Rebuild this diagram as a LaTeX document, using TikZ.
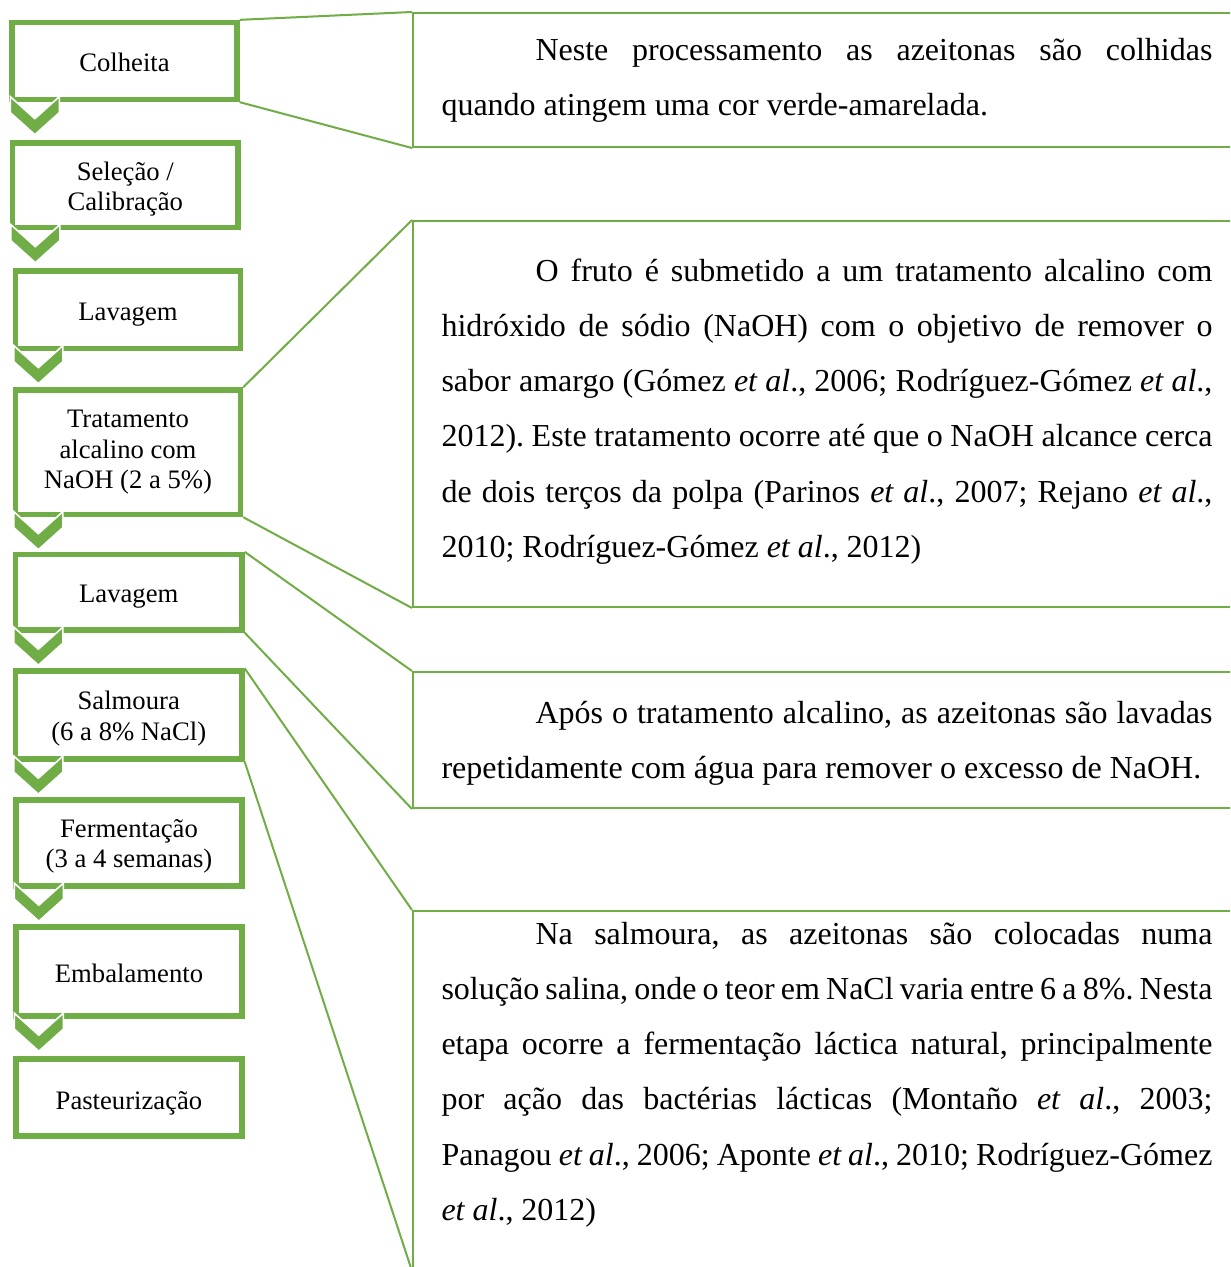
\documentclass[tikz,border=0pt]{standalone}
\usepackage{fontspec}
\setmainfont{Liberation Serif}
\definecolor{leaf}{RGB}{112,173,71}
\frenchspacing
\hyphenpenalty=10000
\tolerance=10000
\begin{document}
\begin{tikzpicture}[x=0.375pt,y=-0.375pt,
  stepbox/.style={draw=leaf, line width=2pt, fill=white, rectangle, inner sep=0pt},
  steptext/.style={inner sep=0pt, align=center, font=\fontsize{10}{11.5}\selectfont},
  callout/.style={draw=leaf, line width=0.75pt, rectangle, inner sep=0pt},
  pointer/.style={draw=leaf, line width=0.75pt},
  note/.style={anchor=base west, inner sep=0pt, text width=289.1pt, align=justify,
    font=\fontsize{12}{20.74}\selectfont},
  chev/.pic={\fill[leaf, draw=white, line width=0.6pt]
    (0,0) -- (24.5,22) -- (49,0) -- (49,16) -- (24.5,38) -- (0,16) -- cycle;}
]
\useasboundingbox (0,0) rectangle (1230,1267);
\clip (0,0) rectangle (1230,1267);

% explanatory panels on the right (open towards the right edge)
\node[callout, minimum width=312pt, minimum height=50.25pt]  (c1) at (829,80) {};
\node[callout, minimum width=312pt, minimum height=144.75pt] (c2) at (829,414) {};
\node[callout, minimum width=312pt, minimum height=51pt]     (c3) at (829,740) {};
\node[callout, minimum width=312pt, minimum height=134.625pt] (c4) at (829,1090.5) {};

% process steps (the label carries the step name)
\node[stepbox, minimum width=84.375pt, minimum height=28.875pt,
  label={[steptext, name=b1t, yshift=-0.4pt]center:Colheita}] (b1) at (124.5,61) {};
\node[stepbox, minimum width=84.5625pt, minimum height=31.6875pt,
  label={[steptext, name=b2t, yshift=-1.5pt]center:{Seleção /\\Calibração}}] (b2) at (125.25,185.25) {};
\node[stepbox, minimum width=84.375pt, minimum height=29.0625pt,
  label={[steptext, name=b3t, yshift=-1.8pt]center:Lavagem}] (b3) at (128,309.75) {};
\node[stepbox, minimum width=84.375pt, minimum height=46.6875pt,
  label={[steptext, name=b4t]center:{Tratamento\\alcalino com\\NaOH (2 a 5\%)}}] (b4) at (128,452.25) {};
\node[stepbox, minimum width=84.9375pt, minimum height=28.3125pt,
  label={[steptext, name=b5t, yshift=-1.5pt]center:Lavagem}] (b5) at (128.75,592.25) {};
\node[stepbox, minimum width=84.9375pt, minimum height=33pt,
  label={[steptext, name=b6t, yshift=-1.3pt]center:{Salmoura\\(6 a 8\% NaCl)}}] (b6) at (128.75,715) {};
\node[stepbox, minimum width=84.75pt, minimum height=32.25pt,
  label={[steptext, name=b7t, yshift=-1.3pt]center:{Fermentação\\(3 a 4 semanas)}}] (b7) at (129,843) {};
\node[stepbox, minimum width=84.75pt, minimum height=33.375pt,
  label={[steptext, name=b8t, yshift=-0.8pt]center:Embalamento}] (b8) at (129,971.5) {};
\node[stepbox, minimum width=84.75pt, minimum height=28.875pt,
  label={[steptext, name=b9t, yshift=-2.2pt]center:Pasteurização}] (b9) at (129,1097.5) {};

% wedges joining each step to its panel
\draw[pointer] (b1.north east) -- (c1.north west);
\draw[pointer] (b1.south east) -- (c1.south west);
\draw[pointer] (b4.north east) -- (c2.north west);
\draw[pointer] (b4.south east) -- (c2.south west);
\draw[pointer] (b5.north east) -- (c3.north west);
\draw[pointer] (b5.south east) -- (c3.south west);
\draw[pointer] (b6.north east) -- (c4.north west);
\draw[pointer] (b6.south east) -- (c4.south west);

% chevrons between consecutive steps
\foreach \b in {b1,b2,b3,b4,b5,b6,b7,b8}
  \pic[shift={(1,-5.5)}] at (\b.south west) {chev};

% panel texts
\node[note] (t1) at (441,60) {\hspace*{35.25pt}Neste processamento as azeitonas são colhidas\linebreak
quando atingem uma cor verde-amarelada.};

\node[note] (t2) at (441,281) {\hspace*{35.25pt}O fruto é submetido a um tratamento alcalino com\linebreak
hidróxido de sódio (NaOH) com o objetivo de remover o\linebreak
sabor amargo (Gómez \textit{et al}., 2006; Rodríguez-Gómez \textit{et al}.,\linebreak
2012). Este tratamento ocorre até que o NaOH alcance cerca\linebreak
de dois terços da polpa (Parinos \textit{et al}., 2007; Rejano \textit{et al}.,\linebreak
2010; Rodríguez-Gómez \textit{et al}., 2012)};

\node[note] (t3) at (441,723) {\hspace*{35.25pt}Após o tratamento alcalino, as azeitonas são lavadas\linebreak
repetidamente com água para remover o excesso de NaOH.};

\node[note] (t4) at (441,944) {\hspace*{35.25pt}Na salmoura, as azeitonas são colocadas numa\linebreak
solução salina, onde o teor em NaCl varia entre 6 a 8\%. Nesta\linebreak
etapa ocorre a fermentação láctica natural, principalmente\linebreak
por ação das bactérias lácticas (Montaño \textit{et al}., 2003;\linebreak
Panagou \textit{et al}., 2006; Aponte \textit{et al}., 2010; Rodríguez-Gómez\linebreak
\textit{et al}., 2012)};
\end{tikzpicture}
\end{document}
